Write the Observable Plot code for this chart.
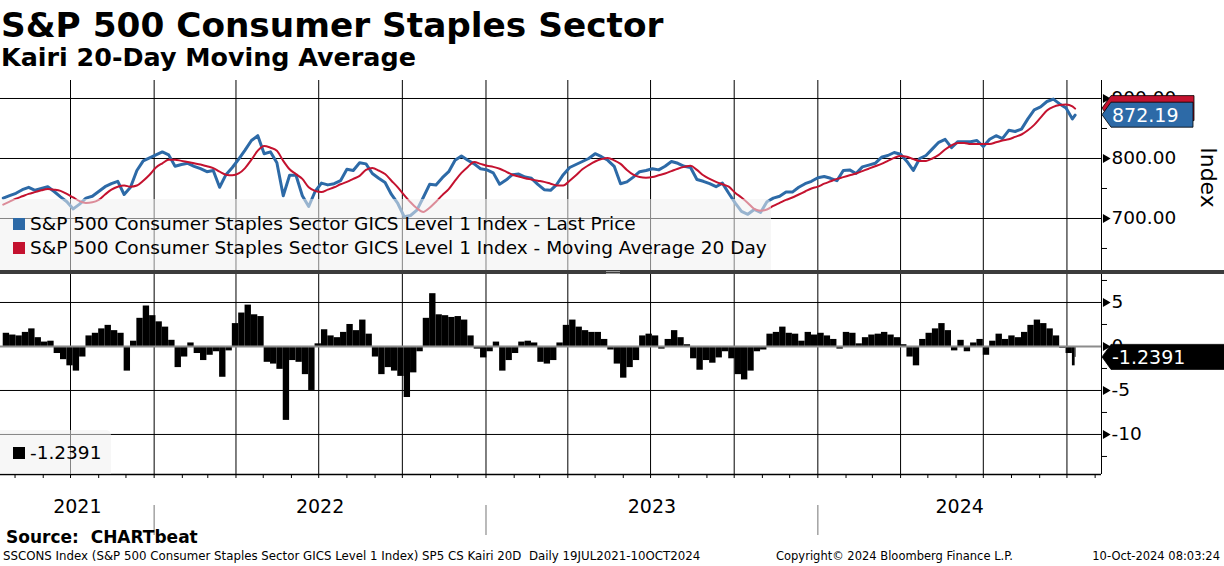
<!DOCTYPE html>
<html><head><meta charset="utf-8">
<script src="https://cdn.jsdelivr.net/npm/d3@7"></script>
<script src="https://cdn.jsdelivr.net/npm/@observablehq/plot@0.6"></script>
<style>
html,body{margin:0;padding:0;background:#fff}
body{width:1224px;height:566px;overflow:hidden;position:relative;font-family:"DejaVu Sans",sans-serif;color:#000}
.abs{position:absolute;white-space:nowrap}
#title{left:1px;top:5px;font-weight:bold;font-size:34.3px;line-height:40px}
#subtitle{left:1px;top:42px;font-weight:bold;font-size:25.4px;line-height:30px}
#topChart{left:0;top:80px}
#botChart{left:0;top:274px}
#sep{left:0;top:270px;width:1224px;height:4px;background:#3c3c3c}
#grip{left:606px;top:271px;width:14px;height:1px;border-top:1px solid #9a9a9a;border-bottom:1px solid #9a9a9a}
.legend{background:rgba(240,240,240,0.55);border-top-right-radius:5px}
.sw{position:absolute;width:12px;height:12px}
.lt{position:absolute;font-size:18.5px;line-height:22px}
#source{left:6px;top:527px;font-weight:bold;font-size:17px;line-height:20px}
.foot{top:548px;font-size:11.5px;line-height:16px}
svg.plot{background:transparent}
</style></head><body>
<div id="title" class="abs">S&amp;P 500 Consumer Staples Sector</div>
<div id="subtitle" class="abs">Kairi 20-Day Moving Average</div>
<div id="topChart" class="abs"></div>
<div id="botChart" class="abs"></div>
<div id="sep" class="abs"></div>
<div id="grip" class="abs"></div>
<div id="legTop" class="abs legend" style="left:0;top:199px;width:771px;height:71px"></div>
<div id="legBot" class="abs legend" style="left:0;top:430px;width:111px;height:44px"></div>
<div id="source" class="abs">Source:&nbsp; CHARTbeat</div>
<div class="abs foot" style="left:3px;font-size:11.8px">SSCONS Index (S&amp;P 500 Consumer Staples Sector GICS Level 1 Index) SP5 CS Kairi 20D&nbsp; Daily 19JUL2021-10OCT2024</div>
<div class="abs foot" style="left:776px">Copyright© 2024 Bloomberg Finance L.P.</div>
<div class="abs foot" style="right:4px">10-Oct-2024 08:03:24</div>
<script>
// ---------------- data (weekly readings, Mondays from 19 Jul 2021, plus last day 10 Oct 2024) --------------
const seriesStart = "2021-07-19";
const lastDay = "2024-10-10";
const priceVals = [
734,738,742,748,752,747,750,753,745,736,
728,716,724,734,737,745,753,758,762,740,
752,780,796,801,806,811,806,787,790,792,
787,783,778,780,752,773,785,799,814,830,
838,808,811,793,738,772,772,738,720,745,
759,756,758,763,782,780,793,791,775,767,
760,740,725,703,705,714,735,757,756,768,
778,797,804,797,791,783,781,776,757,764,
773,774,769,767,757,748,747,757,773,785,
790,795,800,808,803,797,787,758,761,769,
778,780,783,781,787,795,792,787,785,765,
762,758,753,759,742,726,712,707,715,710,
728,734,737,744,744,752,758,762,768,770,
767,763,780,781,775,786,789,792,802,805,
810,807,795,780,800,805,816,827,832,818,
828,828,828,830,820,832,838,833,847,845,
849,866,881,886,895,899,891,884,866,
872.19];
const maVals = [
723,728,733,737,741,744,747,749,748,746,
741,735,729,726,727,731,740,748,753,755,
753,755,763,773,785,792,798,798,796,794,
792,790,787,784,778,773,772,775,784,798,
813,821,818,813,796,782,774,766,752,746,
744,748,752,757,761,766,771,781,784,780,
774,763,752,739,727,717,711,718,728,739,
749,763,776,786,794,791,788,786,783,778,
773,770,767,765,763,761,758,755,755,763,
772,782,789,795,799,801,797,791,781,773,
769,768,769,772,775,779,783,786,788,781,
772,766,761,757,753,743,735,726,716,713,
715,721,726,731,735,740,745,750,753,758,
762,766,769,772,775,779,783,787,791,796,
801,804,803,799,796,796,800,806,815,822,
826,826,824,824,824,824,827,830,832,836,
840,847,856,868,880,886,889,890,887,
883.13];
const kairiVals = [
1.5,1.3,1.2,1.6,2.0,1.0,0.5,0.6,-0.8,-1.5,
-2.2,-2.8,-1.2,1.2,1.5,2.0,2.4,1.8,1.5,-2.8,
0.6,3.2,4.6,3.5,2.8,2.2,0.7,-2.4,-1.2,0.4,
-0.8,-1.6,-1.0,-0.6,-3.5,-0.5,2.6,3.8,4.7,3.6,
3.4,-1.8,-2.0,-2.6,-8.4,-1.6,-1.8,-3.2,-5.0,0.3,
1.9,1.2,1.0,1.6,2.5,1.8,3.0,1.4,-1.2,-3.2,
-2.4,-2.8,-3.4,-5.8,-3.0,-0.6,3.2,6.0,3.6,3.5,
3.3,3.4,3.0,1.2,-0.3,-1.3,-0.6,0.5,-2.8,-1.6,
-0.8,0.5,0.6,0.4,-1.8,-2.0,-1.6,0.4,2.4,3.0,
2.2,1.8,1.6,1.6,0.8,-0.4,-2.0,-3.6,-2.4,-1.6,
1.2,1.4,1.2,-0.3,0.8,1.8,1.0,0.2,-1.4,-2.7,
-1.6,-1.9,-1.3,-0.6,-1.4,-3.2,-3.8,-2.8,-0.6,-0.4,
1.4,1.6,2.2,1.5,1.4,0.6,1.6,1.3,1.5,1.2,
0.8,-0.3,1.6,1.5,0.3,1.0,1.3,1.4,1.6,1.3,
1.0,0.2,-1.2,-2.2,0.8,1.5,2.0,2.6,1.8,-0.5,
0.7,-0.6,0.4,0.8,-1.0,0.6,1.4,0.8,1.2,1.0,
1.6,2.4,3.0,2.6,2.0,1.2,-0.2,-0.8,-2.2,
-1.2391];
const priceTicks = [700, 800, 900];
const priceMinor = [650, 750, 850];
const kairiTicks = [5, 0, -5, -10];
const kairiMinor = [7.5, 2.5, -2.5, -7.5, -12.5];
const yearLabels = ["2021", "2022", "2023", "2024"];
const seriesNames = [
  "S&P 500 Consumer Staples Sector GICS Level 1 Index - Last Price",
  "S&P 500 Consumer Staples Sector GICS Level 1 Index - Moving Average 20 Day"
];
const lastPriceLabel = "872.19";
const lastKairiLabel = "-1.2391";

// ---------------- styling ----------------
const BLUE = "#2d6aa7", RED = "#c4122f";
const W = 1224, MR = 123;
const xDomain = [new Date("2021-07-16"), new Date("2024-11-08")];
const yTopDomain = [613.3, 930];
const yBotDomain = [-14.55, 8.18];

const dates = [...d3.utcMonday.range(new Date(seriesStart), new Date(lastDay)), new Date(lastDay)];
const rows = dates.map((d, i) => ({
  date: d,
  next: dates[i + 1] || d3.utcDay.offset(d, 1),
  price: priceVals[i], ma: maVals[i], k: kairiVals[i]
}));
const quarters = d3.utcMonth.every(3).range(xDomain[0], xDomain[1]);
const months = d3.utcMonth.range(xDomain[0], xDomain[1]);
const yearStarts = d3.utcYear.range(xDomain[0], xDomain[1]);
const years = yearLabels.map(y => {
  const a = new Date(Math.max(+new Date(`${y}-01-01`), +xDomain[0]));
  const b = new Date(Math.min(+new Date(`${+y + 1}-01-01`), +xDomain[1]));
  return {label: y, mid: new Date((+a + +b) / 2)};
});

const style = {fontFamily: "DejaVu Sans", fontSize: "18.5px", color: "#000", background: "transparent"};
const tri = (ticks) => Plot.dot(ticks, {y: d => d, frameAnchor: "right", symbol: "triangle", r: 3.3, rotate: 90, fill: "#000", stroke: null, dx: 4});

const topPlot = Plot.plot({
  width: W, height: 190, marginLeft: 0, marginRight: MR, marginTop: 0, marginBottom: 0,
  style,
  x: {type: "utc", domain: xDomain, axis: null},
  y: {domain: yTopDomain},
  marks: [
    Plot.ruleY(priceTicks, {stroke: "#000", strokeWidth: 1}),
    Plot.ruleX(quarters, {stroke: "#000", strokeWidth: 1}),
    Plot.line(rows, {x: "date", y: "price", stroke: BLUE, strokeWidth: 3, strokeLinejoin: "round"}),
    Plot.line(rows, {x: "date", y: "ma", stroke: RED, strokeWidth: 2, curve: "monotone-x"}),
    Plot.ruleX([xDomain[1]], {stroke: "#000", strokeWidth: 1}),
    Plot.axisY({anchor: "right", ticks: priceTicks, tickSize: 0, tickPadding: 10, tickFormat: d => d.toFixed(2), label: null, fontSize: 18.5}),
    Plot.axisY({anchor: "right", ticks: priceMinor, tickSize: 5, tickFormat: () => "", label: null}),
    tri(priceTicks),
    Plot.text(["Index"], {frameAnchor: "right", textAnchor: "middle", dx: 107, dy: 2, rotate: 90, fontSize: 22})
  ]
});
document.getElementById("topChart").appendChild(topPlot);

const botPlot = Plot.plot({
  width: W, height: 272, marginLeft: 0, marginRight: MR, marginTop: 0, marginBottom: 72,
  style,
  x: {type: "utc", domain: xDomain},
  y: {domain: yBotDomain},
  marks: [
    Plot.ruleY(kairiTicks.filter(d => d !== 0), {stroke: "#000", strokeWidth: 1}),
    Plot.ruleX(quarters, {stroke: "#000", strokeWidth: 1}),
    Plot.rectY(rows, {x1: "date", x2: "next", y: "k", fill: "#000"}),
    Plot.ruleY([0], {stroke: "#8c8c8c", strokeWidth: 2}),
    Plot.ruleX([xDomain[1]], {stroke: "#000", strokeWidth: 1}),
    Plot.ruleY([yBotDomain[0]], {stroke: "#000", strokeWidth: 1.5}),
    Plot.axisY({anchor: "right", ticks: kairiTicks, tickSize: 0, tickPadding: 10, tickFormat: d => String(d), label: null, fontSize: 18.5}),
    Plot.axisY({anchor: "right", ticks: kairiMinor, tickSize: 5, tickFormat: () => "", label: null}),
    tri(kairiTicks),
    Plot.axisX({ticks: months, tickSize: 4, tickFormat: () => "", label: null}),
    Plot.ruleX(yearStarts, {stroke: "#8c8c8c", strokeWidth: 1.2, insetTop: 231, insetBottom: -61}),
    Plot.text(years, {x: "mid", text: "label", frameAnchor: "bottom", dy: 38, fontSize: 19})
  ]
});
document.getElementById("botChart").appendChild(botPlot);

// last-value tags, placed with the charts' own scales
function tag(svg, yPix, fill, label, right) {
  const tip = W - MR + 1, body = tip + 9, h = 25;
  const g = d3.select(svg).append("g").attr("text-anchor", "start");
  g.append("path")
    .attr("d", `M${tip},${yPix}L${body},${yPix - h / 2}H${right}V${yPix + h / 2}H${body}Z`)
    .attr("fill", fill).attr("stroke", "#000").attr("stroke-width", 0.8);
  if (label) g.append("text").attr("x", body + 1).attr("y", yPix).attr("dy", "0.36em")
    .attr("text-anchor", "start")
    .attr("fill", "#fff").attr("font-family", "DejaVu Sans").attr("font-size", 19).text(label);
}
const yT = topPlot.scale("y"), yB = botPlot.scale("y");
tag(topPlot, yT.apply(maVals[maVals.length - 1]), RED, null, 1194);
tag(topPlot, yT.apply(priceVals[priceVals.length - 1]), BLUE, lastPriceLabel, 1193);
tag(botPlot, yB.apply(kairiVals[kairiVals.length - 1]), "#000", lastKairiLabel, W + 2);

// legends
const lt = document.getElementById("legTop");
[[BLUE, seriesNames[0]], [RED, seriesNames[1]]].forEach(([c, t], i) => {
  const cy = 25 + i * 24;
  const s = document.createElement("div"); s.className = "sw";
  s.style.cssText = `left:13px;top:${cy - 6}px;background:${c}`; lt.appendChild(s);
  const l = document.createElement("div"); l.className = "lt"; l.textContent = t;
  l.style.cssText = `left:30px;top:${cy - 11}px`; lt.appendChild(l);
});
const lb = document.getElementById("legBot");
{
  const s = document.createElement("div"); s.className = "sw";
  s.style.cssText = `left:13px;top:17px;background:#000`; lb.appendChild(s);
  const l = document.createElement("div"); l.className = "lt"; l.textContent = lastKairiLabel;
  l.style.cssText = `left:30px;top:12px`; lb.appendChild(l);
}
</script>
</body></html>
